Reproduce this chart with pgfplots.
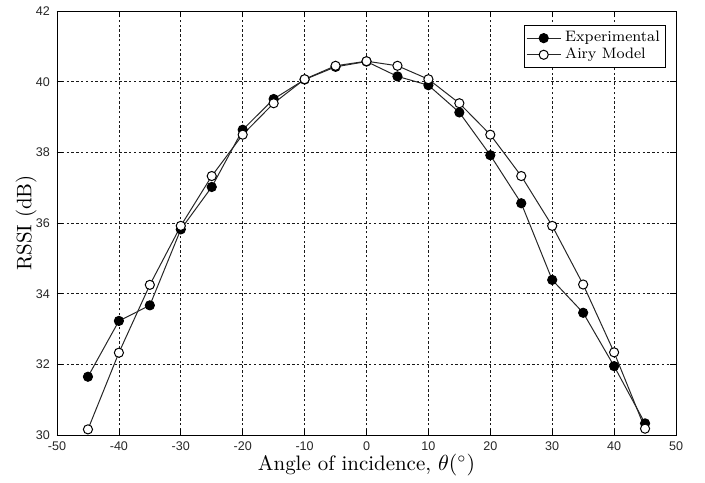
\documentclass[border=0pt]{standalone}
\usepackage{fontspec}
\newfontfamily\arial{Liberation Sans}
\usepackage{pgfplots}
\pgfplotsset{compat=1.18}

\begin{document}
\begin{tikzpicture}
\begin{axis}[
  scale only axis,
  width=309.5bp, height=212bp,
  xmin=-50, xmax=50, ymin=30, ymax=42,
  xtick={-50,-40,...,50},
  ytick={30,32,...,42},
  grid=major,
  grid style={black!90, line width=0.35pt, dash pattern=on 1.2bp off 1.2bp},
  axis line style={black, line width=0.5pt},
  tick align=inside,
  major tick length=3bp,
  tick style={black, line width=0.4pt},
  tick label style={font=\arial\fontsize{6.3}{7}\selectfont, text=black!85},
  /pgf/number format/assume math mode=true,
  xlabel={Angle of incidence, $\theta(^\circ)$},
  ylabel={RSSI (dB)},
  label style={font=\fontsize{10.5}{12}\selectfont},
  xlabel style={at={(axis description cs:0.5,0)}, anchor=north, yshift=-6bp},
  ylabel style={at={(axis description cs:-0.05,0.5)}, anchor=center},
  legend style={at={(axis description cs:0.984,0.967)}, anchor=north east,
    font=\fontsize{7.6}{8}\selectfont, draw=black, line width=0.4pt,
    inner sep=1bp, row sep=-2.5bp, cells={anchor=west}},
  legend cell align=left,
]
\addplot[black!85, line width=0.5pt, mark=*, mark size=2.3pt,
  mark options={fill=black, draw=black}] coordinates {
  (-45,31.65) (-40,33.23) (-35,33.67) (-30,35.82) (-25,37.02) (-20,38.64)
  (-15,39.51) (-10,40.06) (-5,40.42) (0,40.57) (5,40.15) (10,39.90)
  (15,39.13) (20,37.92) (25,36.56) (30,34.39) (35,33.46) (40,31.95) (45,30.33)
};
\addlegendentry{Experimental}
\addplot[black!85, line width=0.5pt, mark=*, mark size=2.3pt,
  mark options={fill=white, draw=black}] coordinates {
  (-45,30.16) (-40,32.33) (-35,34.25) (-30,35.92) (-25,37.33) (-20,38.50)
  (-15,39.39) (-10,40.07) (-5,40.45) (0,40.58) (5,40.45) (10,40.07)
  (15,39.39) (20,38.50) (25,37.33) (30,35.92) (35,34.26) (40,32.34) (45,30.18)
};
\addlegendentry{Airy Model}
\end{axis}
\path (current axis.south west) ++(-28.5bp,-22bp);
\path (current axis.north east) ++(14.5bp,2.5bp);
\end{tikzpicture}
\end{document}
